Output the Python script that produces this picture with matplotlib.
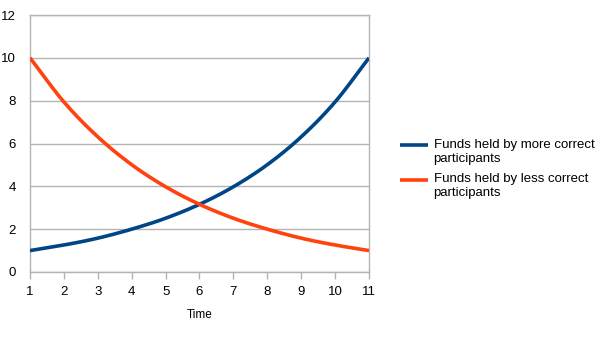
import numpy as np
import matplotlib
matplotlib.use("Agg")
import matplotlib.pyplot as plt

plt.rcParams['font.family'] = ['Liberation Sans', 'DejaVu Sans']

time = [1, 2, 3, 4, 5, 6, 7, 8, 9, 10, 11]
more_correct = [1.0, 1.26, 1.58, 2.0, 2.51, 3.16, 3.98, 5.01, 6.31, 7.94, 10.0]
less_correct = [10.0, 7.94, 6.31, 5.01, 3.98, 3.16, 2.51, 2.0, 1.58, 1.26, 1.0]
y_ticks = [0, 2, 4, 6, 8, 10, 12]

labels = ["Funds held by more correct\nparticipants",
          "Funds held by less correct\nparticipants"]
colors = ["#004586", "#ff420e"]


def smooth(x, y, n=20):
    """Catmull-Rom spline through the given points."""
    x = np.asarray(x, float)
    y = np.asarray(y, float)
    px = np.concatenate([[2 * x[0] - x[1]], x, [2 * x[-1] - x[-2]]])
    py = np.concatenate([[2 * y[0] - y[1]], y, [2 * y[-1] - y[-2]]])
    xs, ys = [], []
    t = np.linspace(0, 1, n, endpoint=False)
    for i in range(1, len(px) - 2):
        for p, out in ((px, xs), (py, ys)):
            p0, p1, p2, p3 = p[i - 1], p[i], p[i + 1], p[i + 2]
            out.extend(0.5 * ((2 * p1) + (-p0 + p2) * t
                              + (2 * p0 - 5 * p1 + 4 * p2 - p3) * t ** 2
                              + (-p0 + 3 * p1 - 3 * p2 + p3) * t ** 3))
    xs.append(x[-1])
    ys.append(y[-1])
    return np.array(xs), np.array(ys)


fig = plt.figure(figsize=(6.05, 3.4), dpi=100)
ax = fig.add_axes([30 / 605, 1 - 272 / 340, 339 / 605, 257 / 340])

for series, lab, col in zip([more_correct, less_correct], labels, colors):
    sx, sy = smooth(time, series)
    ax.plot(sx, sy, color=col, lw=2.6, label=lab, solid_capstyle='butt', zorder=3)

ax.set_xlim(time[0], time[-1])
ax.set_ylim(y_ticks[0], y_ticks[-1])
ax.set_xticks(time)
ax.set_yticks(y_ticks)
ax.yaxis.grid(True, color="#b3b3b3", lw=1)
ax.set_axisbelow(True)
for s in ax.spines.values():
    s.set_color("#b3b3b3")
    s.set_linewidth(1)
ax.tick_params(axis='x', length=5, width=1, color="#b3b3b3", pad=5, labelsize=9.5)
ax.tick_params(axis='y', length=0, pad=10, labelsize=9.5)
ax.set_xlabel("Time", fontsize=8.5, labelpad=8)

leg = ax.legend(loc='center left', bbox_to_anchor=(388 / 605, 1 - 169 / 340),
                bbox_transform=fig.transFigure, frameon=False, fontsize=9.5,
                handlelength=2.1, handletextpad=0.45, labelspacing=0.65)
# align each key line with the first line of its label
for line in leg.get_lines():
    line.set_ydata(np.asarray(line.get_ydata(), float) + 4.7)

fig.savefig("out.png", dpi=100)
